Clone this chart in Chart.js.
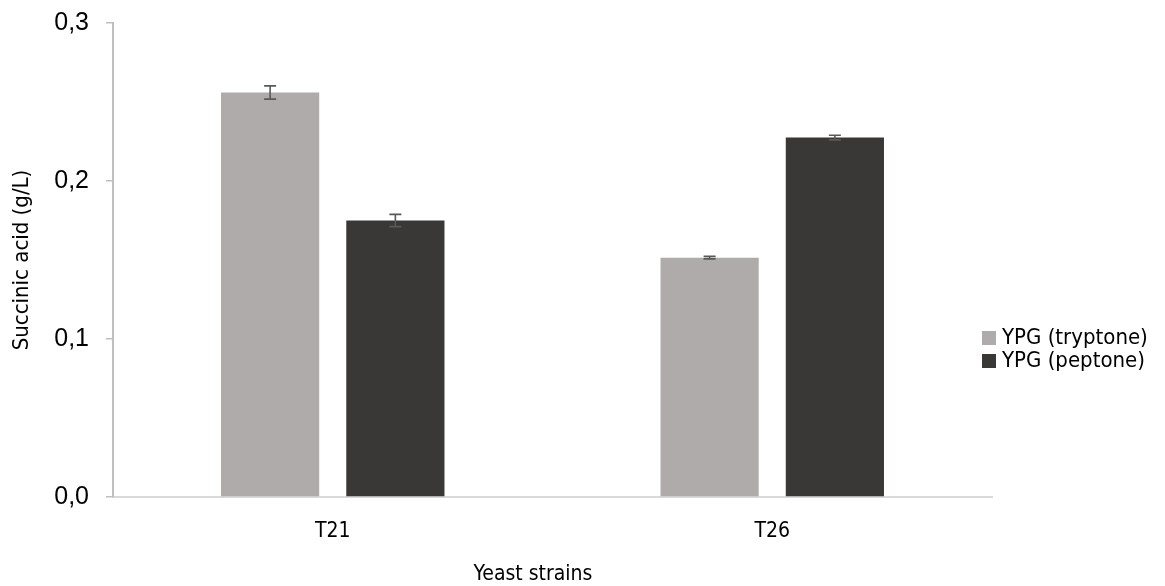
<!DOCTYPE html>
<html>
<head>
<meta charset="utf-8">
<script src="https://cdn.jsdelivr.net/npm/chart.js@4/dist/chart.umd.min.js"></script>
<style>
  html, body { margin: 0; padding: 0; background: #ffffff; }
  #wrap { width: 1165px; height: 586px; }
</style>
</head>
<body>
<div id="wrap"><canvas id="c" width="1165" height="586"></canvas></div>
<script>
// Succinic acid produced by each yeast strain in two YPG media
const strains = ['T21', 'T26'];
const seriesNames = ['YPG (tryptone)', 'YPG (peptone)'];
const tryptone = [0.256, 0.1515];
const peptone = [0.175, 0.2275];
const tryptoneErr = [0.0042, 0.0008];
const peptoneErr = [0.0039, 0.0015];
const yTicks = [0, 0.1, 0.2, 0.3];
const xTitle = 'Yeast strains';
const yTitle = 'Succinic acid (g/L)';

const colors = ['#AEABAA', '#3A3836'];
const errors = [tryptoneErr, peptoneErr];
const narrow = "'Liberation Sans Narrow', 'DejaVu Sans Condensed', sans-serif";
const regular = "'Liberation Sans', Arial, sans-serif";

// Standard-deviation whiskers drawn on top of each bar
const errorBars = {
  id: 'errorBars',
  afterDatasetsDraw(chart) {
    const ctx = chart.ctx;
    const y = chart.scales.y;
    ctx.save();
    ctx.strokeStyle = '#595959';
    ctx.lineWidth = 1.6;
    chart.data.datasets.forEach((ds, i) => {
      const meta = chart.getDatasetMeta(i);
      meta.data.forEach((bar, j) => {
        const v = ds.data[j];
        const e = errors[i][j];
        const yt = y.getPixelForValue(v + e);
        const yb = y.getPixelForValue(v - e);
        const cap = 6;
        ctx.beginPath();
        ctx.moveTo(bar.x, yt); ctx.lineTo(bar.x, yb);
        ctx.moveTo(bar.x - cap, yt); ctx.lineTo(bar.x + cap, yt);
        ctx.moveTo(bar.x - cap, yb); ctx.lineTo(bar.x + cap, yb);
        ctx.stroke();
      });
    });
    ctx.restore();
  }
};

// Legend to the right of the plot and the x-axis title below it
const sideLegend = {
  id: 'sideLegend',
  afterDraw(chart) {
    const ctx = chart.ctx;
    const area = chart.chartArea;
    const x0 = area.right - 10;
    const rows = [338, 361];
    ctx.save();
    ctx.font = '22px ' + narrow;
    ctx.textBaseline = 'middle';
    ctx.textAlign = 'left';
    chart.data.datasets.forEach((ds, i) => {
      const cy = rows[i];
      ctx.fillStyle = ds.backgroundColor;
      ctx.fillRect(x0, cy - 7, 14, 14);
      ctx.fillStyle = '#000000';
      ctx.fillText(ds.label, x0 + 20, cy);
    });
    ctx.font = '21px ' + narrow;
    ctx.textAlign = 'center';
    ctx.fillText(xTitle, area.left + 420, 575);
    ctx.restore();
  }
};

new Chart(document.getElementById('c'), {
  type: 'bar',
  data: {
    labels: strains,
    datasets: [
      { label: seriesNames[0], data: tryptone, backgroundColor: colors[0] },
      { label: seriesNames[1], data: peptone, backgroundColor: colors[1] }
    ]
  },
  options: {
    responsive: false,
    animation: false,
    devicePixelRatio: 1,
    layout: { padding: { left: 0, right: 173, top: 23, bottom: 0 } },
    datasets: { bar: { barPercentage: 0.784, categoryPercentage: 0.57 } },
    plugins: { legend: { display: false }, tooltip: { enabled: false } },
    scales: {
      x: {
        grid: { display: false, drawTicks: false },
        border: { display: true, color: '#D9D9D9', width: 2 },
        ticks: { color: '#000000', padding: 22, font: { family: narrow, size: 21 } },
        afterFit(s) { s.height = 89; s.paddingLeft = 0; s.paddingRight = 0; }
      },
      y: {
        min: 0, max: 0.3,
        afterBuildTicks(s) { s.ticks = yTicks.map(v => ({ value: v })); },
        grid: { drawOnChartArea: false, drawTicks: true, tickLength: 7, color: '#BFBFBF', lineWidth: 1.5 },
        border: { display: true, color: '#BFBFBF', width: 2 },
        ticks: {
          color: '#000000', padding: 17, font: { family: regular, size: 25 },
          callback: v => v.toFixed(1).replace('.', ',')
        },
        title: {
          display: true, text: yTitle, color: '#000000',
          padding: 11, font: { family: narrow, size: 22, lineHeight: 1 }
        },
        afterFit(s) { s.width = 113; s.paddingTop = 0; s.paddingBottom = 0; }
      }
    }
  },
  plugins: [errorBars, sideLegend]
});
</script>
</body>
</html>
